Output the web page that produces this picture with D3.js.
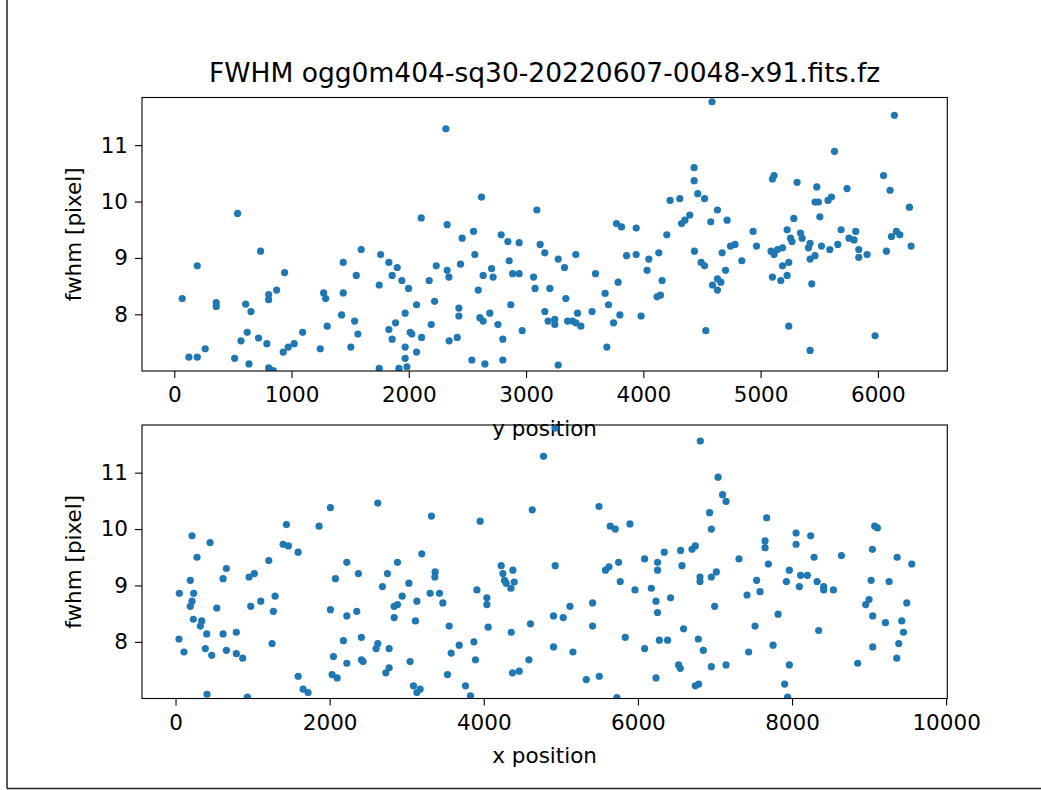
<!DOCTYPE html>
<html>
<head>
<meta charset="utf-8">
<script src="https://cdn.jsdelivr.net/npm/d3@7"></script>
<style>
body { margin: 0; background: #fff; }
text { font-family: "DejaVu Sans", sans-serif; fill: #000; }
</style>
</head>
<body>
<div id="main"></div>
<script>
const ctx = {
    w: 1041,
    h: 790,
    left: 142,
    right: 947.3,
    DOT_R: 3.6,
    DOT_COLOR: "#1f77b4",
    FONT: "21.5px",
};

const TITLE = "FWHM ogg0m404-sq30-20220607-0048-x91.fits.fz";
const Y_LABEL = "fwhm [pixel]";
const FWHM_RANGE = [6.995, 11.845];
const FWHM_TICKS = [8, 9, 10, 11];
const YPOS_RANGE = [-275, 6592];
const YPOS_TICKS = [0, 1000, 2000, 3000, 4000, 5000, 6000];
const XPOS_RANGE = [-435, 10015];
const XPOS_TICKS = [0, 2000, 4000, 6000, 8000, 10000];

// [y position, fwhm]
const yPosPoints = [
    [540,9.79],[736,9.12],[196,8.86],[941,8.74],[1441,8.92],[68,8.28],[358,8.21],[358,8.14],[609,8.18],[654,8.05],
    [805,8.35],[805,8.26],[873,8.43],[1274,8.38],[1291,8.28],[1441,8.38],[1427,7.99],[1304,7.79],[622,7.68],[569,7.53],
    [719,7.58],[790,7.48],[1095,7.68],[1023,7.48],[972,7.42],[929,7.33],[264,7.39],[125,7.24],[196,7.24],[515,7.22],
    [637,7.12],[805,7.05],[844,7.0],[1245,7.39],[1506,7.42],
    [2316,11.29],[2620,10.08],[3092,9.85],[2106,9.71],[2327,9.59],[2552,9.47],[2455,9.35],[2788,9.41],[2845,9.29],[2941,9.27],
    [3120,9.24],[3160,9.09],[2563,9.06],[1594,9.15],[1760,9.06],[1830,8.92],[1901,8.83],[1552,8.69],[1858,8.69],[1941,8.60],
    [1998,8.46],[1748,8.52],[2234,8.86],[2327,8.78],[2342,8.66],[2441,8.89],[2174,8.60],[2706,8.81],[2634,8.69],[2719,8.66],
    [2856,8.95],[2885,8.72],[2941,8.72],[3064,8.66],[3077,8.46],[3203,8.46],[2592,8.43],[2220,8.23],[2066,8.17],[2870,8.17],
    [2427,8.11],[2427,7.97],[2606,7.94],[2634,7.88],[2691,8.02],[2760,7.82],[1969,8.02],[1887,7.85],[1830,7.73],[1858,7.56],
    [2012,7.68],[2026,7.65],[2109,7.59],[2191,7.82],[1538,7.88],[1566,7.65],[1969,7.42],[2066,7.33],[1969,7.22],[1984,7.07],
    [1916,7.04],[1748,7.04],[2344,7.53],[2413,7.59],[2802,7.56],[2967,7.71],[3160,8.05],[3188,7.88],[2538,7.19],[2649,7.12],
    [2802,7.19],
    [4586,11.77],[4433,10.60],[4433,10.37],[4464,10.14],[4522,10.05],[4228,10.02],[4311,10.05],[4632,9.85],[4714,9.67],[4575,9.64],
    [4396,9.76],[4354,9.67],[4326,9.61],[4200,9.41],[3771,9.61],[3814,9.55],[3939,9.53],[3274,8.98],[3328,8.83],[3424,9.06],
    [3857,9.04],[3939,9.06],[4047,8.98],[4132,9.09],[4032,8.78],[3592,8.72],[3785,8.57],[4160,8.60],[3339,8.28],[3674,8.37],
    [3703,8.17],[4117,8.31],[4146,8.34],[3245,7.91],[3245,7.82],[3354,7.88],[3396,7.88],[3424,7.85],[3439,8.02],[3467,7.79],
    [3563,8.05],[3800,7.99],[3746,7.85],[3981,7.97],[3689,7.42],[3274,7.10],[4436,9.12],[4493,8.92],[4522,8.86],[4672,9.09],
    [4743,9.21],[4782,9.24],[4840,8.95],[4701,8.78],[4632,8.63],[4661,8.57],[4590,8.52],[4632,8.43],[4533,7.71],
    [6141,11.53],[5630,10.89],[5115,10.46],[5101,10.40],[5311,10.34],[5479,10.26],[5737,10.23],[6048,10.46],[6104,10.20],[5464,9.99],
    [5493,9.99],[5575,10.02],[5604,10.08],[6269,9.90],[5283,9.70],[5505,9.73],[4936,9.47],[4965,9.21],[5226,9.50],[5255,9.35],
    [5268,9.29],[5340,9.44],[5354,9.35],[5422,9.26],[5408,9.18],[5519,9.21],[5590,9.15],[5658,9.24],[5686,9.50],[5754,9.35],
    [5797,9.32],[5811,9.47],[5837,9.15],[5837,9.01],[5908,9.06],[5089,9.12],[5115,9.06],[5144,9.15],[5187,9.18],[5240,8.92],
    [5187,8.86],[5101,8.66],[5172,8.60],[5226,8.69],[5422,8.98],[5464,9.04],[5436,8.54],[6073,9.12],[6116,9.38],[6158,9.47],
    [6187,9.41],[6283,9.21],[5240,7.79],[5976,7.62],[5422,7.36]
];

// [x position, fwhm]
const xPosPoints = [
    [2010,10.38],[1863,10.05],[1439,10.08],[1396,9.73],[1465,9.70],[1591,9.59],[214,9.88],[448,9.76],[279,9.50],[1210,9.44],
    [660,9.30],[617,9.12],[954,9.15],[1023,9.21],[192,9.09],[49,8.86],[236,8.86],[214,8.72],[192,8.63],[535,8.60],
    [976,8.63],[1106,8.72],[1292,8.81],[1270,8.54],[231,8.40],[340,8.37],[322,8.28],[405,8.14],[617,8.14],[789,8.17],
    [45,8.05],[110,7.82],[387,7.88],[470,7.76],[660,7.85],[789,7.79],[872,7.71],[1253,7.97],[2010,8.57],[2075,9.12],
    [2223,9.41],[2223,8.46],[2178,8.02],[2049,7.74],[2223,7.62],[2032,7.42],[2097,7.36],[1591,7.39],[1655,7.16],[1720,7.10],
    [409,7.07],[932,7.02],
    [4775,11.29],[2625,10.46],[3321,10.23],[3953,10.14],[4629,10.34],[2373,9.21],[2750,9.21],[2880,9.41],[3196,9.56],[2685,8.98],
    [3028,9.04],[2941,8.81],[2837,8.63],[2880,8.66],[3132,8.72],[3369,9.24],[3365,9.15],[3304,8.86],[3425,8.86],[3469,8.69],
    [2837,8.43],[3113,8.37],[2352,8.54],[3911,8.92],[4040,8.78],[4040,8.66],[4226,9.35],[4248,9.21],[4269,9.09],[4291,9.04],
    [4352,8.95],[4378,9.27],[4395,9.06],[3551,8.28],[4057,8.26],[4356,8.17],[4606,8.32],[2412,8.08],[2603,7.88],[2625,7.97],
    [2772,7.88],[2412,7.68],[2434,7.65],[2729,7.45],[2772,7.54],[3044,7.65],[3577,7.80],[3681,7.94],[3872,8.00],[3892,7.68],
    [3529,7.42],[3763,7.22],[3828,7.04],[3087,7.22],[3174,7.16],[3132,7.10],[4373,7.45],[4460,7.48],[4586,7.68],
    [4927,11.79],[6810,11.56],[7040,10.92],[7099,10.61],[7144,10.49],[6931,10.29],[6953,10.00],[5495,10.40],[5641,10.05],[5706,10.00],
    [5897,10.09],[4927,9.35],[6702,9.64],[6745,9.70],[6554,9.62],[6342,9.59],[6572,9.35],[6255,9.41],[6255,9.27],[6087,9.47],
    [5749,9.41],[5625,9.33],[5580,9.27],[5771,9.07],[5962,8.92],[6174,8.95],[6235,8.72],[6255,8.52],[6424,8.78],[6806,9.15],
    [6806,9.07],[6953,9.15],[7018,9.24],[7312,9.47],[7416,8.83],[6996,8.63],[4905,8.46],[5031,8.43],[5118,8.63],[5412,8.69],
    [5412,8.28],[4905,7.91],[5157,7.82],[5836,8.08],[6087,7.88],[6278,8.03],[6385,8.03],[6593,8.23],[6784,8.05],[6849,7.85],
    [6528,7.59],[6550,7.53],[6953,7.56],[7144,7.59],[7437,7.82],[5330,7.33],[5499,7.39],[6235,7.36],[6745,7.22],[6788,7.25],
    [5728,7.01],
    [7671,10.20],[7650,9.79],[7650,9.67],[7693,9.38],[8053,9.93],[8053,9.73],[8242,9.88],[8286,9.50],[8641,9.53],[9073,10.05],
    [9108,10.02],[9043,9.64],[9364,9.50],[9554,9.38],[7541,9.09],[7585,8.89],[7965,9.27],[7927,9.07],[8095,8.98],[8112,9.18],
    [8199,9.18],[8325,9.07],[8411,8.98],[8411,8.92],[8537,8.92],[9026,9.09],[9260,9.07],[9000,8.75],[8956,8.66],[9047,8.46],
    [9212,8.34],[9489,8.69],[9424,8.37],[9446,8.17],[9385,7.97],[9359,7.71],[9047,7.91],[8852,7.62],[7819,8.49],[7520,8.28],
    [8346,8.20],[7754,7.94],[7965,7.59],[7904,7.25],[7943,7.02]
];

function drawPanel(svgEl, id, top, bottom, xDomain, xTicks, xLabel, labelY, points){
    let x = d3.scaleLinear().domain(xDomain).range([ctx.left, ctx.right]);
    let y = d3.scaleLinear().domain(FWHM_RANGE).range([bottom, top]);
    let g = svgEl.append("g").attr("id", id);

    g.append("clipPath").attr("id", "clip-" + id)
     .append("rect")
     .attr("x", ctx.left).attr("y", top)
     .attr("width", ctx.right - ctx.left).attr("height", bottom - top);

    g.append("g")
     .attr("clip-path", `url(#clip-${id})`)
     .selectAll("circle")
     .data(points)
     .enter()
     .append("circle")
     .attr("cx", d => x(d[0]))
     .attr("cy", d => y(d[1]))
     .attr("r", ctx.DOT_R)
     .attr("fill", ctx.DOT_COLOR);

    let xAxis = g.append("g")
     .attr("transform", `translate(0,${bottom})`)
     .call(d3.axisBottom(x).tickValues(xTicks).tickFormat(d3.format("d")).tickSize(7).tickPadding(9));
    let yAxis = g.append("g")
     .attr("transform", `translate(${ctx.left},0)`)
     .call(d3.axisLeft(y).tickValues(FWHM_TICKS).tickFormat(d3.format("d")).tickSize(7).tickPadding(7));
    [xAxis, yAxis].forEach(a => {
        a.select(".domain").remove();
        a.selectAll(".tick line").attr("stroke", "#000").attr("stroke-width", 1.1);
        a.selectAll(".tick text").style("font-size", ctx.FONT).style("font-family", "DejaVu Sans");
    });

    g.append("rect")
     .attr("x", ctx.left).attr("y", top)
     .attr("width", ctx.right - ctx.left).attr("height", bottom - top)
     .attr("fill", "none").attr("stroke", "#000").attr("stroke-width", 1.1);

    g.append("text")
     .attr("x", (ctx.left + ctx.right) / 2)
     .attr("y", labelY)
     .attr("text-anchor", "middle")
     .style("font-size", ctx.FONT)
     .text(xLabel);

    g.append("text")
     .attr("transform", `translate(81,${(top + bottom) / 2}) rotate(-90)`)
     .attr("text-anchor", "middle")
     .style("font-size", ctx.FONT)
     .text(Y_LABEL);
}

function createViz(){
    let svgEl = d3.select("#main").append("svg")
        .attr("width", ctx.w)
        .attr("height", ctx.h);
    svgEl.append("rect")
         .attr("width", ctx.w).attr("height", ctx.h)
         .attr("fill", "#fff");

    // frame edges visible in the screenshot
    svgEl.append("line")
         .attr("x1", 7).attr("y1", 0).attr("x2", 7).attr("y2", 788.5)
         .attr("stroke", "#222").attr("stroke-width", 1.5);
    svgEl.append("line")
         .attr("x1", 7).attr("y1", 788.5).attr("x2", ctx.w).attr("y2", 788.5)
         .attr("stroke", "#222").attr("stroke-width", 1.5);

    svgEl.append("text")
         .attr("x", (ctx.left + ctx.right) / 2)
         .attr("y", 82)
         .attr("text-anchor", "middle")
         .style("font-size", "26.5px")
         .text(TITLE);

    drawPanel(svgEl, "top", 97.5, 371, YPOS_RANGE, YPOS_TICKS, "y position", 436, yPosPoints);
    drawPanel(svgEl, "bottom", 425, 698.5, XPOS_RANGE, XPOS_TICKS, "x position", 763, xPosPoints);
}

createViz();
</script>
</body>
</html>
